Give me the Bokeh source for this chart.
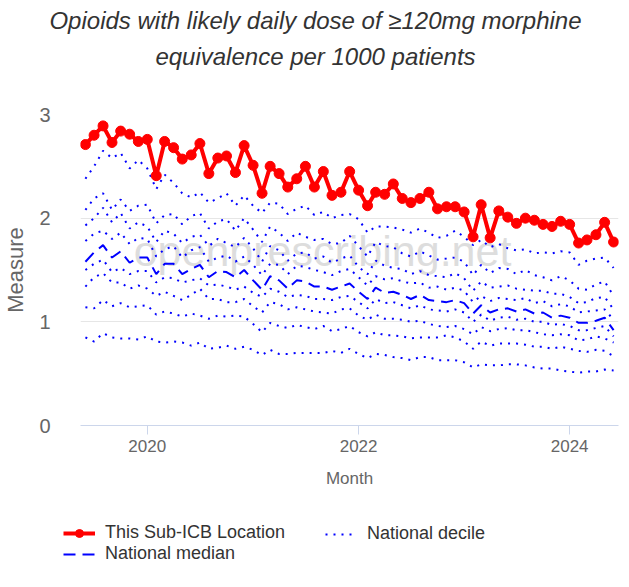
import pandas as pd
from bokeh.plotting import figure
from bokeh.layouts import column
from bokeh.models import (ColumnDataSource, Range1d, FixedTicker, DatetimeTickFormatter,
                          Label, Legend, LegendItem)
from bokeh.embed import file_html
from bokeh.resources import INLINE

# ---------------- data ----------------
months = pd.date_range("2019-06-01", "2024-06-01", freq="MS")

this_location = [2.71, 2.80, 2.89, 2.73, 2.84, 2.81, 2.74, 2.76, 2.41, 2.74, 2.68, 2.57, 2.61, 2.72, 2.43, 2.58,
                 2.60, 2.44, 2.70, 2.51, 2.24, 2.50, 2.43, 2.30, 2.38, 2.50, 2.30, 2.45, 2.22, 2.25, 2.45,
                 2.27, 2.12, 2.25, 2.23, 2.33, 2.19, 2.15, 2.19, 2.25, 2.09, 2.11, 2.11, 2.06, 1.82, 2.13,
                 1.81, 2.07, 2.01, 1.95, 2.00, 1.98, 1.94, 1.92, 1.97, 1.94, 1.76, 1.79, 1.84, 1.96, 1.77]

national_median = [1.58, 1.67, 1.74, 1.62, 1.68, 1.57, 1.62, 1.62, 1.46, 1.56, 1.56, 1.46, 1.51, 1.55, 1.43, 1.49,
                   1.48, 1.43, 1.50, 1.40, 1.31, 1.44, 1.40, 1.32, 1.40, 1.39, 1.34, 1.34, 1.31, 1.34, 1.37,
                   1.29, 1.22, 1.33, 1.28, 1.29, 1.26, 1.22, 1.26, 1.21, 1.20, 1.19, 1.21, 1.18, 1.08, 1.16,
                   1.09, 1.12, 1.13, 1.10, 1.12, 1.08, 1.09, 1.04, 1.06, 1.04, 0.99, 0.99, 1.01, 1.04, 0.92]

p90 = [2.38, 2.50, 2.65, 2.58, 2.63, 2.48, 2.56, 2.48, 2.28, 2.42, 2.34, 2.24, 2.20, 2.25, 2.15, 2.19,
       2.24, 2.12, 2.22, 2.12, 2.05, 2.15, 2.14, 2.04, 2.09, 2.12, 2.03, 2.06, 2.00, 2.03, 2.04,
       1.99, 1.86, 1.92, 1.92, 1.91, 1.89, 1.86, 1.90, 1.86, 1.81, 1.83, 1.88, 1.82, 1.74, 1.79,
       1.72, 1.75, 1.71, 1.69, 1.70, 1.66, 1.67, 1.66, 1.68, 1.67, 1.55, 1.59, 1.61, 1.62, 1.52]

p80 = [2.08, 2.19, 2.24, 2.08, 2.18, 2.07, 2.12, 2.13, 1.95, 2.03, 2.04, 1.94, 2.02, 2.05, 1.90, 1.97,
       1.99, 1.88, 2.00, 1.89, 1.77, 1.92, 1.86, 1.78, 1.86, 1.82, 1.79, 1.80, 1.75, 1.76, 1.83,
       1.73, 1.63, 1.77, 1.73, 1.72, 1.66, 1.63, 1.68, 1.64, 1.60, 1.61, 1.62, 1.58, 1.45, 1.55,
       1.47, 1.52, 1.51, 1.46, 1.50, 1.45, 1.43, 1.40, 1.44, 1.40, 1.32, 1.31, 1.36, 1.39, 1.25]

p70 = [1.93, 2.00, 2.10, 1.96, 2.05, 1.90, 1.96, 1.92, 1.77, 1.88, 1.85, 1.76, 1.82, 1.84, 1.73, 1.80,
       1.76, 1.72, 1.81, 1.71, 1.58, 1.73, 1.69, 1.59, 1.66, 1.67, 1.61, 1.63, 1.57, 1.61, 1.64,
       1.53, 1.46, 1.59, 1.54, 1.52, 1.51, 1.46, 1.49, 1.45, 1.44, 1.43, 1.47, 1.42, 1.30, 1.39,
       1.33, 1.34, 1.35, 1.32, 1.31, 1.30, 1.30, 1.27, 1.27, 1.24, 1.18, 1.19, 1.23, 1.24, 1.12]

p60 = [1.78, 1.85, 1.88, 1.80, 1.86, 1.75, 1.81, 1.80, 1.63, 1.70, 1.73, 1.62, 1.69, 1.72, 1.58, 1.62,
       1.64, 1.58, 1.63, 1.55, 1.45, 1.56, 1.55, 1.46, 1.54, 1.53, 1.50, 1.48, 1.45, 1.49, 1.51,
       1.43, 1.35, 1.44, 1.41, 1.42, 1.39, 1.37, 1.38, 1.33, 1.34, 1.31, 1.33, 1.30, 1.19, 1.25,
       1.20, 1.23, 1.22, 1.21, 1.23, 1.18, 1.20, 1.15, 1.17, 1.15, 1.09, 1.10, 1.11, 1.12, 1.02]

p40 = [1.50, 1.56, 1.60, 1.48, 1.52, 1.46, 1.49, 1.49, 1.38, 1.43, 1.42, 1.38, 1.40, 1.42, 1.35, 1.36,
       1.34, 1.31, 1.34, 1.28, 1.24, 1.32, 1.29, 1.24, 1.26, 1.25, 1.22, 1.22, 1.21, 1.24, 1.25,
       1.19, 1.13, 1.22, 1.18, 1.19, 1.16, 1.13, 1.16, 1.12, 1.11, 1.10, 1.12, 1.09, 1.00, 1.07,
       1.01, 1.04, 1.05, 1.02, 1.03, 1.00, 1.00, 0.97, 0.98, 0.96, 0.92, 0.92, 0.94, 0.96, 0.86]

p30 = [1.34, 1.43, 1.47, 1.38, 1.38, 1.32, 1.35, 1.32, 1.25, 1.29, 1.25, 1.21, 1.26, 1.32, 1.22, 1.22,
       1.19, 1.19, 1.22, 1.15, 1.09, 1.19, 1.17, 1.12, 1.14, 1.12, 1.10, 1.09, 1.08, 1.12, 1.13,
       1.06, 1.02, 1.07, 1.03, 1.03, 1.02, 1.00, 1.01, 0.98, 0.96, 0.95, 0.96, 0.93, 0.88, 0.95,
       0.91, 0.93, 0.94, 0.92, 0.92, 0.90, 0.88, 0.87, 0.88, 0.87, 0.82, 0.83, 0.86, 0.84, 0.80]

p20 = [1.14, 1.13, 1.21, 1.15, 1.18, 1.14, 1.15, 1.16, 1.07, 1.10, 1.08, 1.05, 1.08, 1.06, 1.03, 1.06,
       1.05, 1.06, 1.05, 0.98, 0.90, 0.99, 0.96, 0.94, 0.97, 0.95, 0.93, 0.96, 0.91, 0.93, 0.96,
       0.90, 0.86, 0.90, 0.87, 0.87, 0.86, 0.84, 0.85, 0.85, 0.85, 0.87, 0.85, 0.81, 0.74, 0.81,
       0.77, 0.79, 0.79, 0.79, 0.78, 0.76, 0.76, 0.74, 0.76, 0.74, 0.72, 0.71, 0.73, 0.72, 0.67]

p10 = [0.85, 0.81, 0.89, 0.85, 0.84, 0.84, 0.83, 0.86, 0.81, 0.80, 0.81, 0.80, 0.77, 0.80, 0.74, 0.75,
       0.77, 0.74, 0.76, 0.73, 0.68, 0.73, 0.69, 0.69, 0.70, 0.70, 0.70, 0.70, 0.72, 0.70, 0.74,
       0.69, 0.65, 0.69, 0.68, 0.66, 0.65, 0.63, 0.66, 0.66, 0.63, 0.63, 0.63, 0.61, 0.56, 0.59,
       0.58, 0.58, 0.59, 0.59, 0.58, 0.56, 0.55, 0.55, 0.53, 0.52, 0.51, 0.52, 0.52, 0.54, 0.53]

deciles = [p10, p20, p30, p40, p60, p70, p80, p90]
year_ticks = ["2020-01-01", "2022-01-01", "2024-01-01"]
y_ticks = [0, 1, 2, 3]

title_lines = ["Opioids with likely daily dose of \u2265120mg morphine",
               "equivalence per 1000 patients"]
legend_labels = ["This Sub-ICB Location", "National median", "National decile"]

# ---------------- style constants ----------------
FONT = "Liberation Sans"
W = 629
HEAD_H, MAIN_H, LEG_H = 100, 405, 82
L, R, T, B = 80, 11, 14, 80
RED, BLUE = "#ff0000", "#0000ff"
DEC_DASH, MED_DASH = "2 6", "12 7"

def ms(ts):
    return pd.Timestamp(ts).value / 1e6

def blank_fig(h):
    f = figure(width=W, height=h, x_range=Range1d(0, W), y_range=Range1d(h, 0),
               output_backend="svg", toolbar_location=None,
               x_axis_location=None, y_axis_location=None,
               min_border=0, min_border_left=0, min_border_right=0,
               min_border_top=0, min_border_bottom=0)
    f.frame_align = False
    f.outline_line_color = None
    f.xgrid.visible = False
    f.ygrid.visible = False
    f.background_fill_color = "white"
    f.border_fill_color = "white"
    return f

# ---------------- header (title) ----------------
head = blank_fig(HEAD_H)
for txt, py in zip(title_lines, [20, 56]):
    head.add_layout(Label(x=315, y=py, text=txt, text_align="center", text_baseline="middle",
                          text_font=FONT, text_font_size="24px", text_font_style="italic",
                          text_color="#333333"))

# ---------------- main chart ----------------
x_start = pd.Timestamp("2019-05-15")
x_end = pd.Timestamp("2024-06-18")

p = figure(width=W, height=MAIN_H, x_axis_type="datetime", output_backend="svg",
           toolbar_location=None, x_range=Range1d(x_start, x_end), y_range=Range1d(0, 3),
           min_border_left=L, min_border_right=R, min_border_top=T, min_border_bottom=B)
p.frame_align = False
p.outline_line_color = None
p.background_fill_color = "white"
p.border_fill_color = "white"

x_mid = ms(x_start) + (322 - L) / (W - L - R) * (ms(x_end) - ms(x_start))
p.add_layout(Label(x=x_mid, y=(425 - 250) / (311 / 3), text="openprescribing.net",
                   text_align="center", text_baseline="middle", text_font=FONT,
                   text_font_size="43px", text_color="#dddddd", level="underlay"))

src = ColumnDataSource(dict(month=months, loc=this_location, med=national_median,
                            **{f"d{i}": d for i, d in enumerate(deciles)}))

for i in range(len(deciles)):
    p.line("month", f"d{i}", source=src, line_color=BLUE, line_width=2, line_dash=DEC_DASH)
p.line("month", "med", source=src, line_color=BLUE, line_width=2, line_dash=MED_DASH)
p.line("month", "loc", source=src, line_color=RED, line_width=4)
p.scatter("month", "loc", source=src, size=10, fill_color=RED, line_color=RED)

p.xaxis.ticker = FixedTicker(ticks=[ms(t) for t in year_ticks])
p.xaxis.formatter = DatetimeTickFormatter(years="%Y", months="%Y", days="%Y", hours="%Y")
p.xaxis.axis_line_color = "#ccd6eb"
p.xaxis.major_tick_line_color = "#ccd6eb"
p.xaxis.major_tick_out = 9
p.xaxis.major_tick_in = 0
p.xaxis.minor_tick_line_color = None
p.xaxis.major_label_text_font = FONT
p.xaxis.major_label_text_font_size = "17px"
p.xaxis.major_label_text_color = "#666666"
p.xaxis.major_label_standoff = 5
p.xaxis.axis_label = "Month"
p.xaxis.axis_label_text_font = FONT
p.xaxis.axis_label_text_font_size = "17px"
p.xaxis.axis_label_text_font_style = "normal"
p.xaxis.axis_label_text_color = "#666666"
p.xaxis.axis_label_standoff = 14

p.yaxis.ticker = FixedTicker(ticks=y_ticks)
p.yaxis.axis_line_color = None
p.yaxis.major_tick_line_color = None
p.yaxis.major_tick_out = 0
p.yaxis.major_tick_in = 0
p.yaxis.minor_tick_line_color = None
p.yaxis.major_label_text_font = FONT
p.yaxis.major_label_text_font_size = "20px"
p.yaxis.major_label_text_color = "#666666"
p.yaxis.major_label_standoff = 30
p.yaxis.axis_label = "Measure"
p.yaxis.axis_label_text_font = FONT
p.yaxis.axis_label_text_font_size = "22px"
p.yaxis.axis_label_text_font_style = "normal"
p.yaxis.axis_label_text_color = "#666666"
p.yaxis.axis_label_standoff = 8

p.xgrid.grid_line_color = None
p.ygrid.grid_line_color = "#e6e6e6"
p.ygrid.grid_line_width = 1

# ---------------- legend strip ----------------
leg = blank_fig(LEG_H)
nan = [float("nan")]
s_line = leg.line(x=nan, y=nan, line_color=RED, line_width=4)
s_pts = leg.scatter(x=nan, y=nan, size=9, fill_color=RED, line_color=RED)
m_line = leg.line(x=nan, y=nan, line_color=BLUE, line_width=2, line_dash=MED_DASH)
d_line = leg.line(x=nan, y=nan, line_color=BLUE, line_width=2, line_dash=DEC_DASH)

common = dict(glyph_width=32, glyph_height=20, label_height=20, label_standoff=10,
              spacing=0, padding=0, margin=0, border_line_alpha=0, background_fill_alpha=0,
              label_text_font=FONT, label_text_font_size="18px", label_text_color="#333333",
              orientation="vertical")
leg1 = Legend(items=[LegendItem(label=legend_labels[0], renderers=[s_line, s_pts]),
                     LegendItem(label=legend_labels[1], renderers=[m_line])],
              location=(63, LEG_H - 19 - 40), **common)
leg2 = Legend(items=[LegendItem(label=legend_labels[2], renderers=[d_line])],
              location=(325, LEG_H - 19 - 20), **common)
leg.add_layout(leg1, "center")
leg.add_layout(leg2, "center")

layout = column(head, p, leg, spacing=0)
open("out.html", "w").write(file_html(layout, INLINE))
